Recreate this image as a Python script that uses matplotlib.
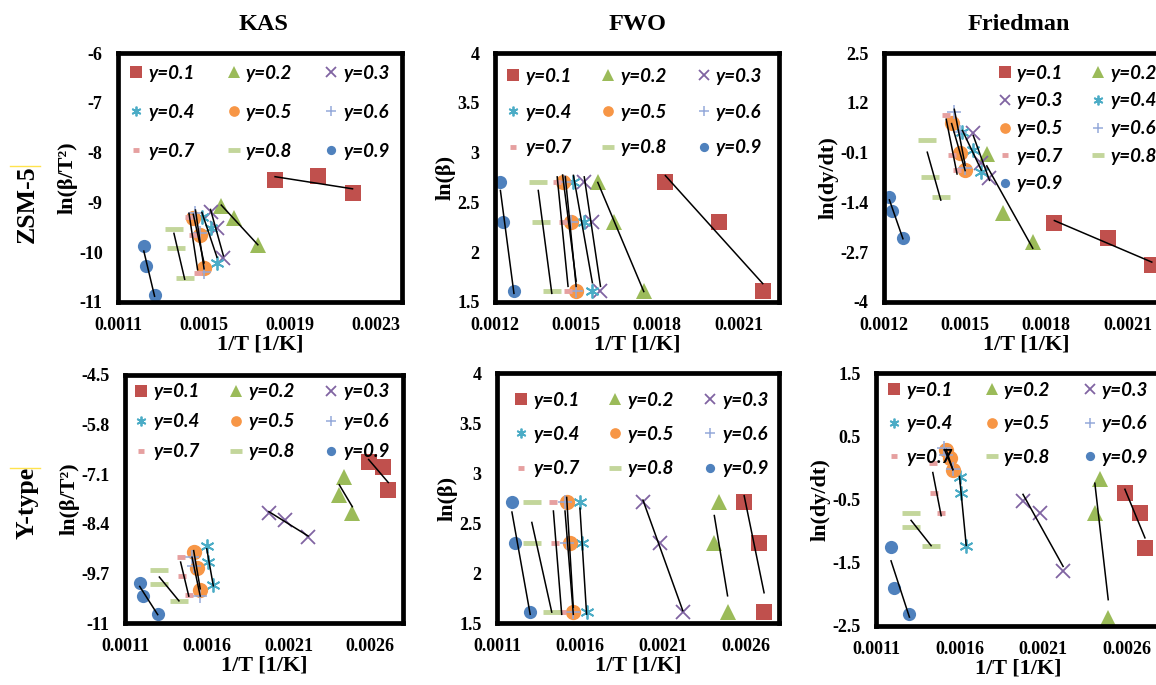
import numpy as np
import matplotlib
matplotlib.use("Agg")
import matplotlib.pyplot as plt
from matplotlib.lines import Line2D

# ---------------- data ----------------
labels = ["y=0.1", "y=0.2", "y=0.3", "y=0.4", "y=0.5", "y=0.6", "y=0.7", "y=0.8", "y=0.9"]
ln_beta = [2.708, 2.303, 1.609]

# ZSM-5 : 1/T at each conversion for the three heating rates
zsm_x = [
    [0.00183, 0.00203, 0.00219],
    [0.00158, 0.00164, 0.00175],
    [0.00153, 0.00156, 0.00159],
    [0.00149, 0.00153, 0.00156],
    [0.00145, 0.00148, 0.00150],
    [0.00146, 0.00148, 0.00150],
    [0.00143, 0.00145, 0.00147],
    [0.00136, 0.00137, 0.00141],
    [0.00122, 0.00123, 0.00127],
]
zsm_kas = [
    [-8.55, -8.47, -8.81],
    [-9.07, -9.31, -9.86],
    [-9.19, -9.51, -10.12],
    [-9.29, -9.51, -10.22],
    [-9.31, -9.65, -10.32],
    [-9.22, -9.61, -10.40],
    [-9.29, -9.65, -10.42],
    [-9.53, -9.92, -10.52],
    [-9.88, -10.28, -10.86],
]
zsm_fri = [
    [-1.94, -2.33, -3.04],
    [-0.14, -1.68, -2.43],
    [0.41, -0.37, -0.76],
    [0.44, -0.03, -0.61],
    [0.67, -0.11, -0.55],
    [0.96, 0.44, -0.50],
    [0.88, -0.16, -0.55],
    [0.23, -0.74, -1.26],
    [-1.26, -1.63, -2.33],
]

# Y-type
yt_x = [
    [0.00259, 0.00268, 0.00271],
    [0.00244, 0.00241, 0.00249],
    [0.00198, 0.00208, 0.00222],
    [0.00160, 0.00161, 0.00164],
    [0.00152, 0.00154, 0.00156],
    [0.00151, 0.00152, 0.00156],
    [0.00144, 0.00145, 0.00149],
    [0.00131, 0.00131, 0.00143],
    [0.00119, 0.00121, 0.00130],
]
yt_kas = [
    [-6.78, -6.91, -7.51],
    [-7.17, -7.64, -8.11],
    [-8.11, -8.30, -8.74],
    [-8.98, -9.40, -10.00],
    [-9.13, -9.55, -10.13],
    [-9.26, -9.50, -10.29],
    [-9.26, -9.76, -10.26],
    [-9.60, -9.99, -10.42],
    [-9.95, -10.29, -10.76],
]
yt_fri = [
    [-0.39, -0.71, -1.26],
    [-0.17, -0.72, -2.37],
    [-0.52, -0.72, -1.63],
    [-0.15, -0.39, -1.23],
    [0.28, 0.15, -0.04],
    [0.31, 0.20, -0.02],
    [0.07, -0.39, -0.72],
    [-0.72, -0.94, -1.23],
    [-1.25, -1.90, -2.31],
]

# axis ticks
xt_zsm_kas = [0.0011, 0.0015, 0.0019, 0.0023]
xt_zsm = [0.0012, 0.0015, 0.0018, 0.0021]
xt_yt = [0.0011, 0.0016, 0.0021, 0.0026]
yt_kas_zsm_ticks = [-6, -7, -8, -9, -10, -11]
yt_fwo_ticks = [4, 3.5, 3, 2.5, 2, 1.5]
yt_fri_zsm_ticks = [2.5, 1.2, -0.1, -1.4, -2.7, -4]
yt_kas_yt_ticks = [-4.5, -5.8, -7.1, -8.4, -9.7, -11]
yt_fri_yt_ticks = [1.5, 0.5, -0.5, -1.5, -2.5]

# ---------------- style ----------------
W, H = 1156, 685
fig = plt.figure(figsize=(W / 100, H / 100), dpi=100)
SERIF = "Liberation Serif"
LEGF = "Lato"

styles = [
    dict(marker="s", color="#C0504D", ms=12, mew=0),
    dict(marker="^", color="#9BBB59", ms=11.5, mew=0),
    dict(marker="x", color="#8064A2", ms=9.5, mew=1.3),
    dict(marker=(6, 2, 0), color="#4BACC6", ms=10, mew=1.3),
    dict(marker="o", color="#F79646", ms=11, mew=0),
    dict(marker="+", color="#95A9DA", ms=9.5, mew=1.1),
    dict(marker="_", color="#E6A0A0", ms=6, mew=3.5),
    dict(marker="_", color="#C3D69B", ms=13, mew=3.5),
    dict(marker="o", color="#4F81BD", ms=9.5, mew=0),
]


def rect(l, t, r, b):
    return [l / W, 1 - b / H, (r - l) / W, (b - t) / H]


def tick_fmt(v):
    return ("%g" % v) if abs(v) >= 0.01 or v == 0 else ("%.4f" % v)


def panel(r, xs, ys, xlim, ylim, xticks, yticks, ylabel, ncol, leg_anchor, lsp, csp):
    ax = fig.add_axes(r)
    handles = []
    for i in range(9):
        st = styles[i]
        h, = ax.plot(xs[i], ys[i], ls="none", marker=st["marker"], color=st["color"],
                     markersize=st["ms"], markeredgewidth=st["mew"], zorder=2, label=labels[i])
        handles.append(h)
        xa = np.array(xs[i]); ya = np.array(ys[i])
        k, c = np.polyfit(xa, ya, 1)
        xx = np.array([xa.min(), xa.max()])
        ax.plot(xx, k * xx + c, color="black", lw=1.1, zorder=3)
    ax.set_xlim(*xlim)
    ax.set_ylim(*ylim)
    ax.set_xticks(xticks)
    ax.set_xticklabels([tick_fmt(v) for v in xticks])
    ax.set_yticks(yticks)
    ax.set_yticklabels([tick_fmt(v) for v in yticks])
    ax.tick_params(length=0, pad=11, labelsize=13)
    for lab in ax.get_xticklabels() + ax.get_yticklabels():
        lab.set_fontfamily(SERIF)
        lab.set_fontweight("bold")
    for s in ax.spines.values():
        s.set_linewidth(3.4)
        s.set_color("black")
    ax.set_xlabel("1/T [1/K]", fontfamily=SERIF, fontweight="bold", fontsize=16, labelpad=0)
    ax.set_ylabel(ylabel, fontfamily=SERIF, fontweight="bold", fontsize=16, labelpad=1)
    if ncol == 3:
        order = [0, 3, 6, 1, 4, 7, 2, 5, 8]
    else:
        order = [0, 2, 4, 6, 8, 1, 3, 5, 7]
    leg = ax.legend([handles[j] for j in order], [labels[j] for j in order], ncol=ncol,
                    loc="upper left", bbox_to_anchor=leg_anchor, frameon=False,
                    prop=dict(family=LEGF, weight="bold", style="italic", size=13.5),
                    markerscale=0.7, handlelength=0.7, handletextpad=0.3,
                    columnspacing=csp, labelspacing=lsp, borderpad=0.4, borderaxespad=0)
    leg.set_zorder(5)
    return ax


# Row 1 : ZSM-5
panel(rect(118, 53, 402, 302), zsm_x, zsm_kas, (0.0011, 0.00242), (-11, -6),
      xt_zsm_kas, yt_kas_zsm_ticks, "ln(β/T²)", 3, (0.015, 0.983), 1.17, 1.72)
panel(rect(495, 53, 779, 302), zsm_x, [ln_beta] * 9, (0.0012, 0.00225), (1.5, 4),
      xt_zsm, yt_fwo_ticks, "ln(β)", 3, (0.015, 0.97), 1.0, 1.6)
panel(rect(884, 53, 1168, 302), zsm_x, zsm_fri, (0.0012, 0.00225), (-4, 2.5),
      xt_zsm, yt_fri_zsm_ticks, "ln(dy/dt)", 2, (0.375, 0.983), 0.57, 1.5)

# Row 2 : Y-type
panel(rect(125, 375, 403, 623), yt_x, yt_kas, (0.0011, 0.0028), (-11, -4.5),
      xt_yt, yt_kas_yt_ticks, "ln(β/T²)", 3, (0.007, 0.997), 0.7, 1.6)
panel(rect(497, 373, 779, 623), yt_x, [ln_beta] * 9, (0.0011, 0.0028), (1.5, 4),
      xt_yt, yt_fwo_ticks, "ln(β)", 3, (0.035, 0.955), 0.92, 1.57)
panel(rect(876, 373, 1160, 626), yt_x, yt_fri, (0.0011, 0.0028), (-2.5, 1.5),
      xt_yt, yt_fri_yt_ticks, "ln(dy/dt)", 3, (0.013, 0.995), 0.88, 1.75)

# column titles
for cx, t in [(263, "KAS"), (637, "FWO"), (1019, "Friedman")]:
    fig.text(cx / W, 1 - 25 / H, t, ha="center", va="center", fontfamily=SERIF,
             fontweight="bold", fontsize=17.5)
# row labels
fig.text(27 / W, 1 - 204 / H, "ZSM-5", ha="center", va="center", rotation=90,
         fontfamily=SERIF, fontweight="bold", fontsize=18.5)
fig.text(27 / W, 1 - 503 / H, "Y-type", ha="center", va="center", rotation=90,
         fontfamily=SERIF, fontweight="bold", fontsize=18.5)
for yy in (166, 468):
    fig.add_artist(Line2D([10 / W, 40 / W], [1 - yy / H, 1 - yy / H], color="#FFE34D", lw=1))

fig.savefig("out.png", dpi=100)
